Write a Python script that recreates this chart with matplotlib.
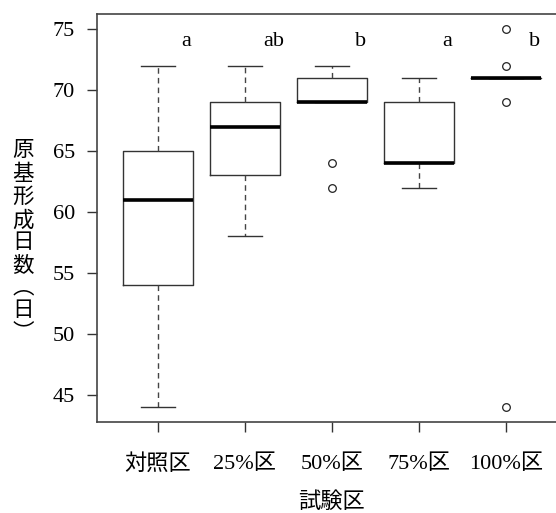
import matplotlib
matplotlib.use("Agg")
import matplotlib.pyplot as plt

plt.rcParams['font.family'] = ['Liberation Serif', 'Noto Sans CJK JP', 'DejaVu Sans']

groups = ['対照区', '25%区', '50%区', '75%区', '100%区']
whislo = [44, 58, 69, 62, 71]
q1 = [54, 63, 69, 64, 71]
med = [61, 67, 69, 64, 71]
q3 = [65, 69, 71, 69, 71]
whishi = [72, 72, 72, 71, 71]
fliers = [[], [], [64, 62], [], [75, 72, 69, 44]]
letters = ['a', 'ab', 'b', 'a', 'b']
yticks = [45, 50, 55, 60, 65, 70, 75]

stats = []
for i in range(len(groups)):
    stats.append(dict(label=groups[i], whislo=whislo[i], q1=q1[i], med=med[i],
                      q3=q3[i], whishi=whishi[i], fliers=fliers[i]))

fig = plt.figure(figsize=(5.56, 5.13), dpi=100)
ax = fig.add_axes([0.1745, 0.1774, 0.845, 0.7953])

ax.bxp(stats, positions=range(1, 6), widths=0.8, showfliers=True,
       boxprops=dict(color='#333333', linewidth=1.0),
       medianprops=dict(color='black', linewidth=2.6, solid_capstyle='butt'),
       whiskerprops=dict(color='#444444', linewidth=1.0, linestyle=(0, (4, 3))),
       capprops=dict(color='#333333', linewidth=1.0),
       capwidths=0.4,
       flierprops=dict(marker='o', markersize=5.5, markerfacecolor='none',
                       markeredgecolor='#222222', markeredgewidth=0.9))

for i, t in enumerate(letters):
    ax.text(i + 1.33, 74, t, ha='center', va='center', fontsize=16)

ax.set_xlim(0.3, 5.7)
ax.set_ylim(42.76, 76.24)
ax.set_yticks(yticks)
ax.set_xticks(range(1, 6))
ax.set_xticklabels(groups)
ax.tick_params(axis='both', length=7, width=1, color='#333333', labelsize=16)
ax.tick_params(axis='y', pad=9)
ax.tick_params(axis='x', pad=16)
for s in ax.spines.values():
    s.set_color('#444444')
    s.set_linewidth(1.2)

ax.set_xlabel('試験区', fontsize=16, labelpad=13)
ax.set_ylabel('\n'.join('原基形成日数︵日︶'), rotation=0, fontsize=15.5,
              ha='center', va='center', linespacing=1.22)
ax.yaxis.set_label_coords(-0.158, 0.44)

fig.savefig('out.png', dpi=100)
